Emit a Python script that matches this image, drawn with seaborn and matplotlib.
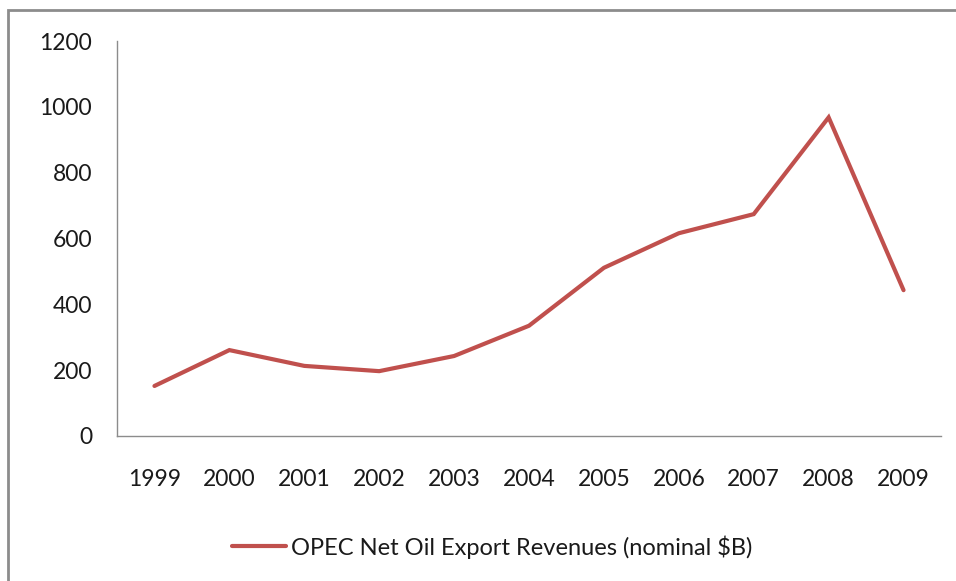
import matplotlib
matplotlib.use("Agg")
import matplotlib.pyplot as plt
import seaborn as sns
import pandas as pd
from matplotlib.lines import Line2D

years = ["1999", "2000", "2001", "2002", "2003", "2004", "2005", "2006", "2007", "2008", "2009"]
revenues = [152, 261, 213, 197, 243, 335, 511, 616, 674, 968, 443]
series_name = "OPEC Net Oil Export Revenues (nominal $B)"
y_ticks = [0, 200, 400, 600, 800, 1000, 1200]

sns.set_style("white")
plt.rcParams['font.family'] = ['Lato', 'DejaVu Sans']

df = pd.DataFrame({"Year": years, "Revenue": revenues, "Series": series_name})

fig = plt.figure(figsize=(9.56, 5.81), dpi=100)
ax = fig.add_axes([117/956, 1 - 436/581, (941 - 117)/956, (436 - 41)/581])

color = "#C0504D"
sns.lineplot(data=df, x="Year", y="Revenue", ax=ax, color=color, linewidth=3.0,
             sort=False, legend=False, solid_capstyle="round", solid_joinstyle="miter")

ax.set_xlim(-0.5, len(years) - 0.5)
ax.set_ylim(0, 1200)
ax.set_yticks(y_ticks)
ax.set_yticklabels([str(t) for t in y_ticks])
ax.set_xlabel("")
ax.set_ylabel("")
ax.tick_params(axis="both", length=0, labelsize=16.5, colors="#1a1a1a")
ax.tick_params(axis="y", pad=18)
ax.tick_params(axis="x", pad=24)

for s in ["top", "right"]:
    ax.spines[s].set_visible(False)
for s in ["left", "bottom"]:
    ax.spines[s].set_color("#8c8c8c")
    ax.spines[s].set_linewidth(1.0)

handle = Line2D([0], [0], color=color, linewidth=3.0)
fig.legend([handle], [series_name], loc="center", bbox_to_anchor=(492/956, 1 - 547/581),
           frameon=False, fontsize=17, handlelength=2.3, handletextpad=0.2,
           labelcolor="#1a1a1a")

# outer chart frame
frame = plt.Rectangle((8/956, -0.05), 1.2, (581 - 10)/581 + 0.05, transform=fig.transFigure,
                      fill=False, edgecolor="#8c8c8c", linewidth=2.0)
fig.add_artist(frame)

fig.savefig("out.png", dpi=100)
